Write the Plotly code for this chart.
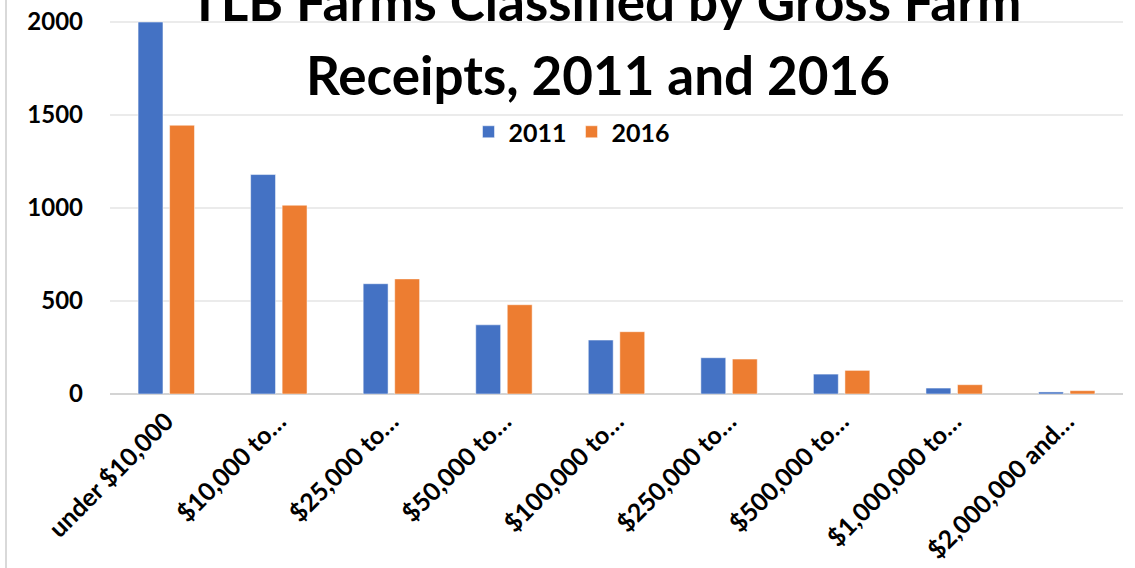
import plotly.graph_objects as go

categories = ["under $10,000", "$10,000 to…", "$25,000 to…", "$50,000 to…",
              "$100,000 to…", "$250,000 to…", "$500,000 to…", "$1,000,000 to…",
              "$2,000,000 and…"]
values_2011 = [2000, 1180, 593, 372, 290, 195, 107, 32, 11]
values_2016 = [1445, 1015, 619, 480, 335, 188, 127, 50, 18]
y_ticks = [0, 500, 1000, 1500, 2000]

W, H = 1135, 568
L, R, T, B = 110, 12, 20, 174
plot_h = H - T - B
plot_w = W - L - R

def py(pix):
    return (H - B - pix) / plot_h

def px(pix):
    return (pix - L) / plot_w

font_family = "Lato, 'Open Sans', sans-serif"

fig = go.Figure()
fig.add_trace(go.Bar(x=categories, y=values_2011, name="2011",
                     marker=dict(color="#4472C4", line=dict(color="#ffffff", width=0.5))))
fig.add_trace(go.Bar(x=categories, y=values_2016, name="2016",
                     marker=dict(color="#ED7D31", line=dict(color="#ffffff", width=0.5))))

fig.update_layout(
    width=W, height=H,
    margin=dict(l=L, r=R, t=T, b=B, autoexpand=False),
    paper_bgcolor="white", plot_bgcolor="white",
    barmode="group", bargap=0.44, bargroupgap=0.21,
    font=dict(family=font_family, color="#000000", size=24),
    showlegend=True,
    legend=dict(orientation="h", x=px(572), y=py(132), xanchor="center", yanchor="middle",
                font=dict(size=25, family=font_family, weight="bold"),
                bgcolor="rgba(0,0,0,0)", itemwidth=30, tracegroupgap=0),
    annotations=[
        dict(text="TLB Farms Classified by Gross Farm", x=px(605), y=py(0), xref="paper", yref="paper",
             xanchor="center", yanchor="middle", showarrow=False,
             font=dict(size=53, family=font_family, weight="bold", color="#000000")),
        dict(text="Receipts, 2011 and 2016", x=px(598), y=py(74), xref="paper", yref="paper",
             xanchor="center", yanchor="middle", showarrow=False,
             font=dict(size=53, family=font_family, weight="bold", color="#000000")),
    ],
    shapes=[
        dict(type="line", xref="paper", yref="paper", x0=px(6), x1=px(6), y0=py(575), y1=py(-5),
             line=dict(color="#d9d9d9", width=2)),
    ],
)

fig.update_xaxes(
    type="category", tickangle=-45, showgrid=False, showline=False, ticks="",
    ticklabelstandoff=7,
    tickfont=dict(size=25, family=font_family, weight="bold"),
)
fig.update_yaxes(
    range=[0, 2011], tickvals=y_ticks, showgrid=True, gridcolor="#ebebeb", gridwidth=1.5,
    zeroline=True, zerolinecolor="#d4d4d4", zerolinewidth=2, showline=False, ticks="",
    ticklabelstandoff=26,
    tickfont=dict(size=24, family=font_family, weight="bold"),
)

fig.write_html("out.html", config={"displayModeBar": False},
               post_script="document.body.style.margin='0';document.body.style.padding='0';")
